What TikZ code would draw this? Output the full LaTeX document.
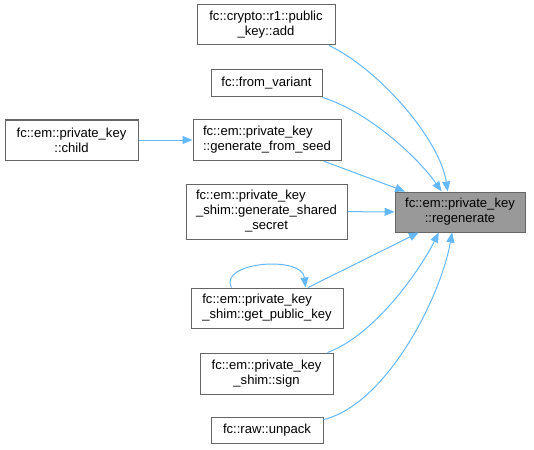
\documentclass[tikz,border=0pt]{standalone}
\usepackage{fontspec}
\setmainfont{Liberation Sans}
\usetikzlibrary{arrows.meta}
\definecolor{edgeblue}{HTML}{63B8FF}
\definecolor{boxborder}{HTML}{666666}
\definecolor{boxfill}{HTML}{999999}

\begin{document}
\begin{tikzpicture}[x=0.75pt, y=-0.75pt,
    fn/.style={draw=boxborder, line width=0.75pt, fill=white, align=center, inner sep=0pt,
        font=\fontsize{9.8}{11.25}\selectfont},
    current/.style={fn, fill=boxfill},
    caller/.style={draw=edgeblue, line width=0.75pt, -{Triangle[length=7.5pt, width=6pt]}}]
    \useasboundingbox (0, 0) rectangle (534, 449);

    % Function being called
    \node[current, minimum width=97.5pt, minimum height=30pt] (regen) at (460, 212)
        {fc::em::private\_key\\::regenerate};

    % Callers
    \node[fn, minimum width=103.5pt, minimum height=30pt] (add) at (266, 25)
        {fc::crypto::r1::public\\\_key::add};
    \node[fn, minimum width=83.25pt, minimum height=20.25pt] (fromv) at (266.5, 83.5)
        {fc::from\_variant};
    \node[fn, align=left, minimum width=111pt, minimum height=31pt] (gfs) at (267, 140)
        {fc::em::private\_key\\::generate\_from\_seed};
    \node[fn, align=left, minimum width=120.75pt, minimum height=41.25pt] (gss) at (266.5, 211.5)
        {fc::em::private\_key\\\_shim::generate\_shared\\\hfill\_secret\hfill\mbox{}};
    \node[fn, align=left, minimum width=114pt, minimum height=30pt] (gpk) at (267, 308)
        {fc::em::private\_key\\\_shim::get\_public\_key};
    \node[fn, minimum width=99.75pt, minimum height=30.75pt] (sign) at (266.5, 373.5)
        {fc::em::private\_key\\\_shim::sign};
    \node[fn, minimum width=84pt, minimum height=19.5pt] (unpack) at (267, 430.5)
        {fc::raw::unpack};
    \node[fn, minimum width=99.75pt, minimum height=30pt] (child) at (71.5, 140)
        {fc::em::private\_key\\::child};

    % Call edges
    \draw[caller] (add.-18) .. controls (380, 70) and (440, 140) .. (regen.121);
    \draw[caller] (fromv.south east) .. controls (370, 112) and (420, 160) .. (regen.132);
    \draw[caller] (gfs) -- (regen);
    \draw[caller] (gss) -- (regen);
    \draw[caller] (gpk) -- (regen);
    \draw[caller] (sign.19) .. controls (375, 335) and (420, 270) .. (regen.-136);
    \draw[caller] (unpack.11) .. controls (385, 405) and (440, 300) .. (regen.-111);
    \draw[caller] (child) -- (gfs);

    % Recursive call
    \draw[caller] (gpk.150) .. controls (218, 262) and (302, 255) .. (gpk.28);

\end{tikzpicture}
\end{document}
